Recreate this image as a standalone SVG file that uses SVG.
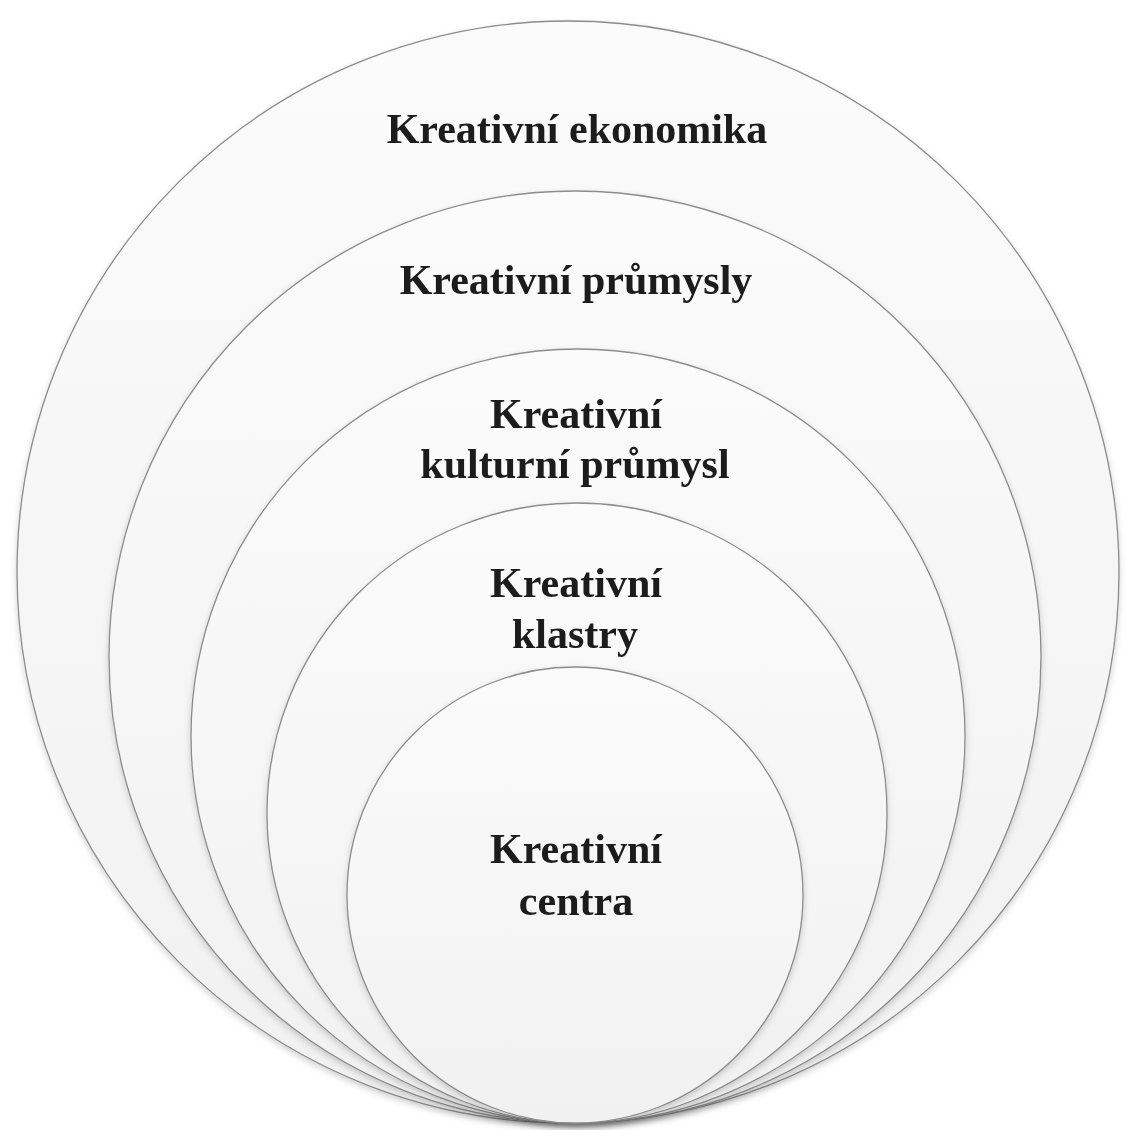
<svg xmlns="http://www.w3.org/2000/svg" width="1134" height="1130" viewBox="0 0 1134 1130">
  <style>
    .ring { fill: url(#g); stroke: #8c8c8c; stroke-width: 1.3; }
    .lbl { font-family: "Liberation Serif", "Times New Roman", serif; font-weight: bold; font-size: 42px; fill: #1a1a1a; text-anchor: middle; }
  </style>
  <defs>
    <linearGradient id="g" x1="0" y1="0" x2="0" y2="1">
      <stop offset="0" stop-color="#fbfbfb"/>
      <stop offset="1" stop-color="#f1f1f1"/>
    </linearGradient>
    <filter id="sh" x="-10%" y="-10%" width="120%" height="120%">
      <feDropShadow dx="0" dy="3" stdDeviation="3" flood-color="#000" flood-opacity="0.18"/>
    </filter>
  </defs>
  <rect width="1134" height="1130" fill="#ffffff"/>
  <g id="kreativni-ekonomika" filter="url(#sh)">
    <circle class="ring" cx="568" cy="572" r="551"/>
    <text class="lbl" x="577" y="143">Kreativní ekonomika</text>
  </g>
  <g id="kreativni-prumysly" filter="url(#sh)">
    <circle class="ring" cx="575" cy="657" r="466"/>
    <text class="lbl" x="576" y="294">Kreativní průmysly</text>
  </g>
  <g id="kreativni-kulturni-prumysl" filter="url(#sh)">
    <circle class="ring" cx="578" cy="736" r="387"/>
    <text class="lbl" x="576" y="428">Kreativní</text>
    <text class="lbl" x="575" y="478">kulturní průmysl</text>
  </g>
  <g id="kreativni-klastry" filter="url(#sh)">
    <circle class="ring" cx="577" cy="813" r="310"/>
    <text class="lbl" x="576" y="597">Kreativní</text>
    <text class="lbl" x="575" y="648">klastry</text>
  </g>
  <g id="kreativni-centra" filter="url(#sh)">
    <circle class="ring" cx="575" cy="895" r="228"/>
    <text class="lbl" x="576" y="863">Kreativní</text>
    <text class="lbl" x="576" y="915">centra</text>
  </g>
  <g id="connectors"/>
</svg>
